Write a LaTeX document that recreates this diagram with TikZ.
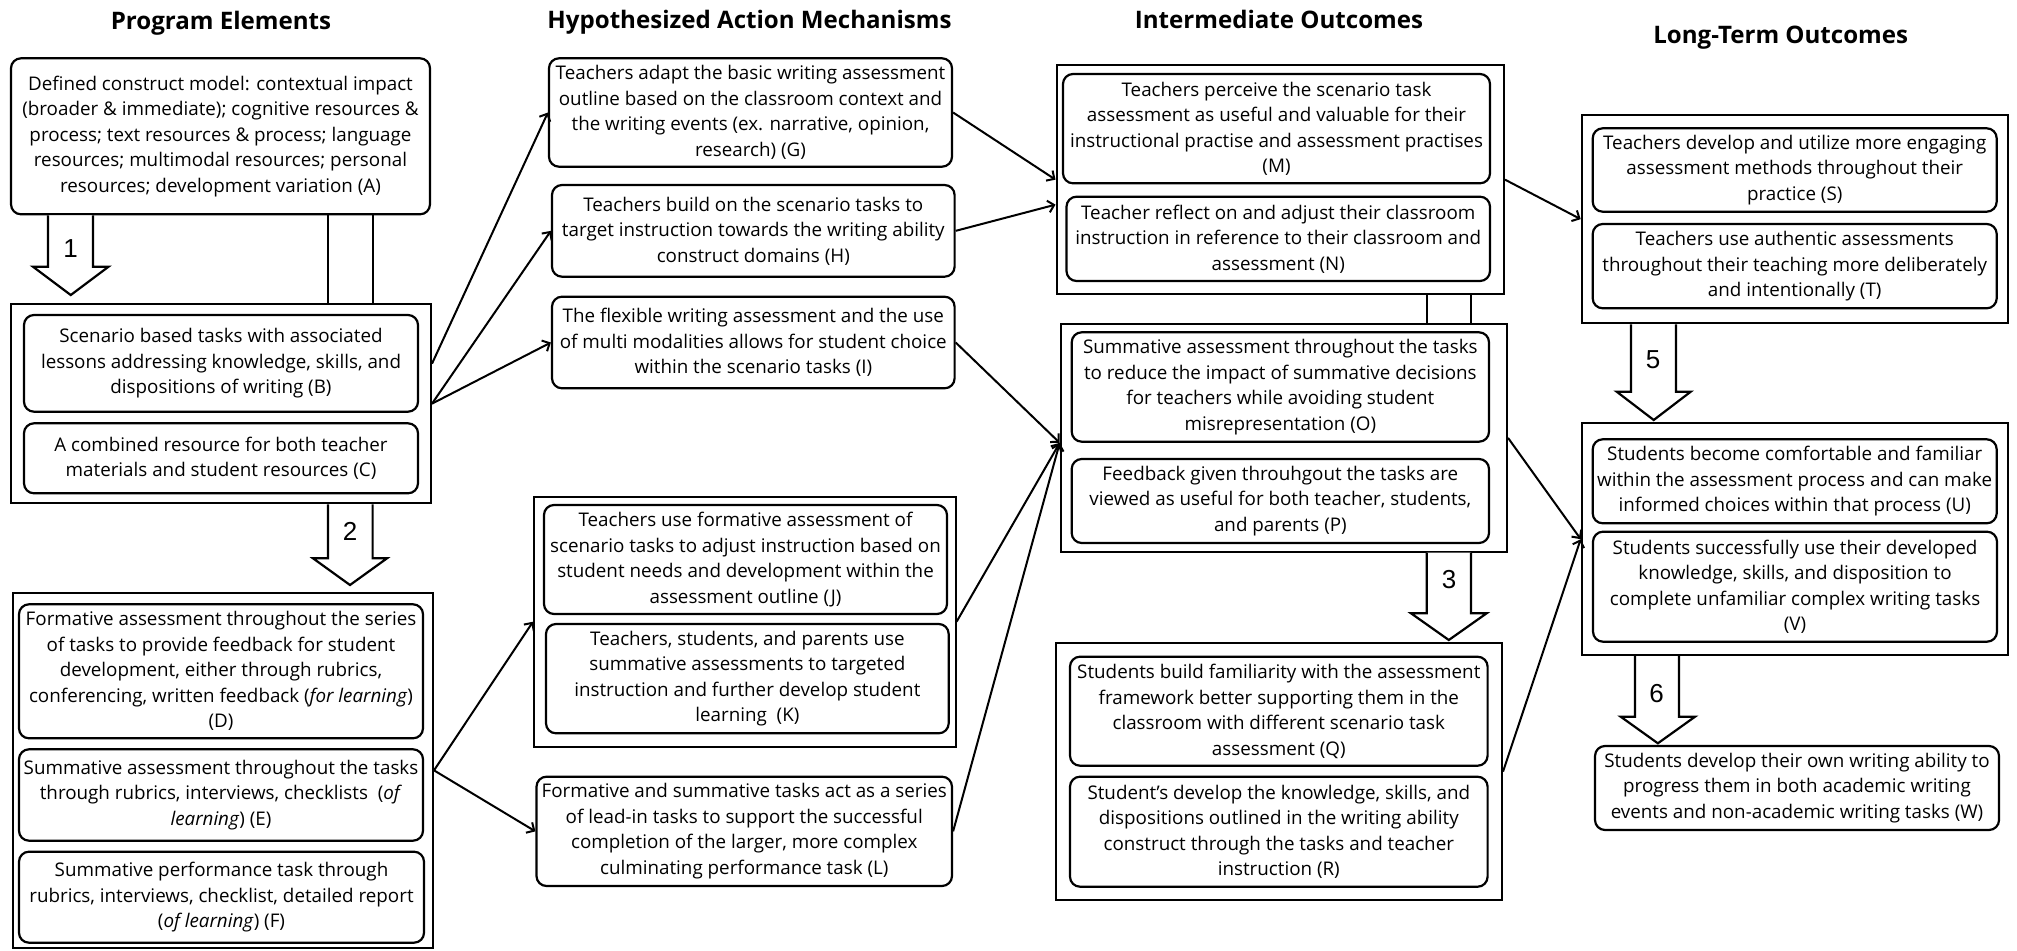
\documentclass[tikz,border=0pt]{standalone}
\usepackage{fontspec}
\setmainfont{Open Sans}
\newfontfamily\numfont{Liberation Sans}
\usetikzlibrary{arrows.meta,calc}
\newcommand\bodyfont{\fontsize{18.8}{25.5}\selectfont}
\newcommand\titlefont{\bfseries\fontsize{24.1}{28}\selectfont}
\tikzset{
  rbox/.style={draw, line width=2.2pt, rounded corners=10pt, align=center, inner sep=0pt, font=\bodyfont},
  cbox/.style={draw, line width=2pt, inner sep=0pt},
  conn/.style={line width=2pt, -{Straight Barb[length=6pt,width=12pt]}},
  blk/.style={draw, line width=2.2pt, fill=white, line join=miter},
  pipe/.style={line width=2.2pt},
  ttl/.style={font=\titlefont, anchor=base},
  num/.style={font=\numfont\fontsize{26}{26}\selectfont}
}
% name, x1, y1, x2, y2, style
\newcommand\bx[6]{\node[#6, minimum width={(#4-#2)*1pt}, minimum height={(#5-#3)*1pt}] (#1) at ({(#2+#4)/2},{(#3+#5)/2})}
\begin{document}
\begin{tikzpicture}[x=1pt,y=-1pt]
\useasboundingbox (0,0) rectangle (2017,950);
% titles
\node[ttl] (t1) at (221,29.3) {Program Elements};
\node[ttl] (t2) at (749.5,28.3) {Hypothesized Action Mechanisms};
\node[ttl] (t3) at (1279,28.3) {Intermediate Outcomes};
\node[ttl] (t4) at (1780.7,43.3) {Long-Term Outcomes};
% containers
\bx{BC}{11}{304}{431}{503.3}{cbox} {};
\bx{DEF}{12.7}{592.7}{433}{948}{cbox} {};
\bx{JK}{534}{496.7}{955.6}{746.7}{cbox} {};
\bx{MN}{1056.5}{65}{1504}{294.3}{cbox} {};
\bx{OP}{1060.7}{324}{1507}{551.7}{cbox} {};
\bx{QR}{1056}{643.3}{1502}{900}{cbox} {};
\bx{ST}{1581.7}{115}{2008}{323.3}{cbox} {};
\bx{UV}{1581.7}{423.3}{2008}{655}{cbox} {};
% column 1
\bx{A}{11}{58.3}{430}{214.3}{rbox} {Defined construct model: contextual impact\\(broader \& immediate); cognitive resources \&\\process; text resources \& process; language\\resources; multimodal resources; personal\\resources; development variation (A)};
\bx{B}{24}{315}{418}{411.7}{rbox} {Scenario based tasks with associated\\lessons addressing knowledge, skills, and\\dispositions of writing (B)};
\bx{C}{24}{423.3}{418}{493.3}{rbox} {A combined resource for both teacher\\materials and student resources (C)};
\bx{D}{19}{604.3}{423}{738.3}{rbox} {Formative assessment throughout the series\\of tasks to provide feedback for student\\development, either through rubrics,\\conferencing, written feedback (\textit{for learning})\\(D)};
\bx{E}{19}{749.3}{423}{840.7}{rbox} {Summative assessment throughout the tasks\\through rubrics, interviews, checklists\ \ (\textit{of}\\\textit{learning}) (E)};
\bx{F}{19}{851.7}{424}{942.7}{rbox} {Summative performance task through\\rubrics, interviews, checklist, detailed report\\(\textit{of learning}) (F)};
% column 2
\bx{G}{549}{58.3}{952}{166.7}{rbox} {Teachers adapt the basic writing assessment\\outline based on the classroom context and\\the writing events (ex. narrative, opinion,\\research) (G)};
\bx{H}{552}{185}{954.6}{276.7}{rbox} {Teachers build on the scenario tasks to\\target instruction towards the writing ability\\construct domains (H)};
\bx{I}{552}{296.7}{954.6}{388.3}{rbox} {The flexible writing assessment and the use\\of multi modalities allows for student choice\\within the scenario tasks (I)};
\bx{J}{544}{505}{947}{614}{rbox} {Teachers use formative assessment of\\scenario tasks to adjust instruction based on\\student needs and development within the\\assessment outline (J)};
\bx{K}{546}{624}{948.7}{733.3}{rbox} {Teachers, students, and parents use\\summative assessments to targeted\\instruction and further develop student\\learning\ \ (K)};
\bx{L}{536.5}{776.7}{952}{886}{rbox} {Formative and summative tasks act as a series\\of lead-in tasks to support the successful\\completion of the larger, more complex\\culminating performance task (L)};
% column 3
\bx{M}{1063}{74}{1490}{183.3}{rbox} {Teachers perceive the scenario task\\assessment as useful and valuable for their\\instructional practise and assessment practises\\(M)};
\bx{N}{1066.5}{196.7}{1490}{281}{rbox} {Teacher reflect on and adjust their classroom\\instruction in reference to their classroom and\\assessment (N)};
\bx{O}{1071.7}{332.3}{1489}{441.7}{rbox} {Summative assessment throughout the tasks\\to reduce the impact of summative decisions\\for teachers while avoiding student\\misrepresentation (O)};
\bx{P}{1071.7}{459}{1489}{543}{rbox} {Feedback given throuhgout the tasks are\\viewed as useful for both teacher, students,\\and parents (P)};
\bx{Q}{1070}{656.7}{1487.6}{765.7}{rbox} {Students build familiarity with the assessment\\framework better supporting them in the\\classroom with different scenario task\\assessment (Q)};
\bx{R}{1070}{776.7}{1487.6}{886.7}{rbox} {Student’s develop the knowledge, skills, and\\dispositions outlined in the writing ability\\construct through the tasks and teacher\\instruction (R)};
% column 4
\bx{S}{1592.7}{128.3}{1996.7}{211.7}{rbox} {Teachers develop and utilize more engaging\\assessment methods throughout their\\practice (S)};
\bx{T}{1592.7}{224}{1996.7}{308.3}{rbox} {Teachers use authentic assessments\\throughout their teaching more deliberately\\and intentionally (T)};
\bx{U}{1592.7}{439.3}{1996.7}{523.3}{rbox} {Students become comfortable and familiar\\within the assessment process and can make\\informed choices within that process (U)};
\bx{V}{1593}{531.7}{1997}{641.7}{rbox} {Students successfully use their developed\\knowledge, skills, and disposition to\\complete unfamiliar complex writing tasks\\(V)};
\bx{W}{1595}{746}{1999}{830}{rbox} {Students develop their own writing ability to\\progress them in both academic writing\\events and non-academic writing tasks (W)};
% pipes
\draw[pipe] (328,0 |- A.south) -- (328,0 |- BC.north);
\draw[pipe] (372.6,0 |- A.south) -- (372.6,0 |- BC.north);
\draw[pipe] (1426.7,0 |- MN.south) -- (1426.7,0 |- OP.north);
\draw[pipe] (1471,0 |- MN.south) -- (1471,0 |- OP.north);
% block arrows
\draw[blk] (48,0 |- A.south) -- (48,266.7) -- (33,266.7) -- (70.75,295) -- (108.5,266.7) -- (93,266.7) -- (93,0 |- A.south);
\draw[blk] (328,0 |- BC.south) -- (328,558.3) -- (313,558.3) -- (350,585) -- (387,558.3) -- (372.6,558.3) -- (372.6,0 |- BC.south);
\draw[blk] (1426.7,0 |- OP.south) -- (1426.7,613.3) -- (1411,613.3) -- (1448.8,640) -- (1486.6,613.3) -- (1471,613.3) -- (1471,0 |- OP.south);
\draw[blk] (1631,0 |- ST.south) -- (1631,391.7) -- (1616.7,391.7) -- (1653.7,420) -- (1690.7,391.7) -- (1676,391.7) -- (1676,0 |- ST.south);
\draw[blk] (1635,0 |- UV.south) -- (1635,716.7) -- (1620.7,716.7) -- (1657.85,743.3) -- (1695,716.7) -- (1679,716.7) -- (1679,0 |- UV.south);
\node[num] (n1) at (70.6,248.3) {1};
\node[num] (n2) at (350,531.7) {2};
\node[num] (n3) at (1449,580) {3};
\node[num] (n5) at (1653,360) {5};
\node[num] (n6) at (1656.7,693.3) {6};
% connectors
\draw[conn] ([yshift=40pt]BC.east) -- (G.west);
\draw[conn] (BC.east) -- (H.west);
\draw[conn] (BC.east) -- (I.west);
\draw[conn] (DEF.east) -- (JK.west);
\draw[conn] (DEF.east) -- (L.west);
\draw[conn] (G.east) -- (MN.west);
\draw[conn] (H.east) -- ([yshift=-25pt]MN.west);
\draw[conn] (I.east) -- ([yshift=-5pt]OP.west);
\draw[conn] (JK.east) -- ([yshift=-5pt]OP.west);
\draw[conn] (L.east) -- ([yshift=-5pt]OP.west);
\draw[conn] (MN.east) -- (ST.west);
\draw[conn] (OP.east) -- (UV.west);
\draw[conn] (QR.east) -- (UV.west);
\end{tikzpicture}
\end{document}
